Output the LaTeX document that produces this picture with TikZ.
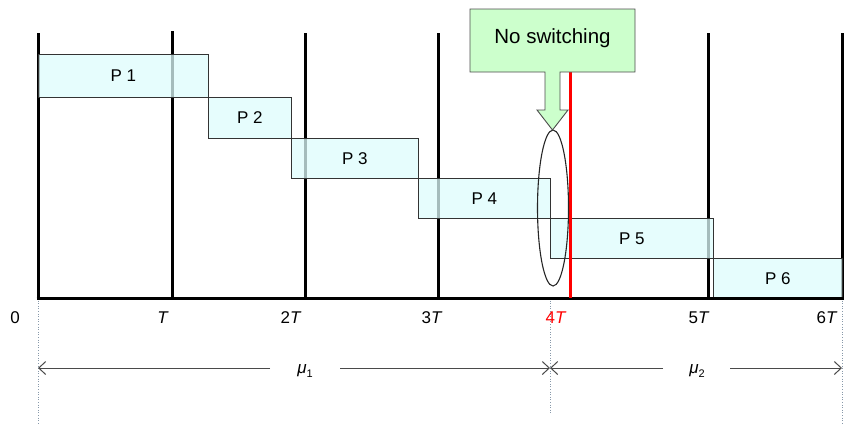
\documentclass[tikz,border=0pt]{standalone}
\usepackage{fontspec}
\setmainfont{Liberation Sans}
\usetikzlibrary{arrows.meta}
\definecolor{boxfill}{HTML}{DDFCFC}
\definecolor{callfill}{HTML}{CCFFCC}
\definecolor{dimgray}{HTML}{4A4A4A}
\definecolor{dotgray}{HTML}{8899AA}
\tikzset{
  tline/.style={line width=3pt,black},
  pbox/.style={draw=black!80,line width=0.8pt,fill=boxfill,fill opacity=0.75,text opacity=1,
    anchor=north west,inner sep=0pt,font=\fontsize{17}{19}\selectfont},
  tick/.style={font=\fontsize{17}{19}\selectfont,inner sep=0pt},
  dim/.style={draw=dimgray,line width=1pt,-{Straight Barb[length=7pt,width=13pt]}},
  guide/.style={draw=dotgray,line width=0.6pt,dotted},
  mu/.style={font=\fontsize{17}{19}\selectfont,inner sep=0pt},
}
\begin{document}
\begin{tikzpicture}[x=1pt,y=-1pt]
\useasboundingbox (0,0) rectangle (850,424);
% guides
\draw[guide] (38,298) -- (38,424);
\draw[guide] (550,298) -- (550,414);
\draw[guide] (842,298) -- (842,424);
% vertical lines
\foreach \x/\t in {38/33,172/31,305/33,438/33,708/33,842/33}
  \draw[tline] (\x,\t) -- (\x,298);
% boxes
\node[pbox,minimum width=170pt,minimum height=43pt] (p1) at (38,54) {P 1};
\node[pbox,minimum width=83pt,minimum height=41pt] (p2) at (208,97) {P 2};
\node[pbox,minimum width=127pt,minimum height=40pt] (p3) at (291,138) {P 3};
\node[pbox,minimum width=132pt,minimum height=40pt] (p4) at (418,178) {P 4};
\node[pbox,minimum width=163pt,minimum height=40pt] (p5) at (550,218) {P 5};
\node[pbox,minimum width=129pt,minimum height=40pt] (p6) at (713,258) {P 6};
% axis
\draw[tline] (36.5,298) -- (843.5,298);
% red line
\draw[red,line width=3pt] (570,72) -- (570,298);
% ellipse
\draw[black!85,line width=1.1pt] (553,208) ellipse [x radius=15.5pt,y radius=78pt];
% callout
\draw[draw=black!70,line width=0.9pt,fill=callfill] (470,9) -- (635,9) -- (635,72) -- (560,72) -- (560,110) -- (568,110) -- (552.5,130) -- (537,110) -- (545,110) -- (545,72) -- (470,72) -- cycle;
\node[font=\fontsize{20.5}{22}\selectfont,inner sep=0pt] (ns) at (552.5,38) {No switching};
% tick labels
\node[tick] (l0) at (15,318) {0};
\node[tick] (l1) at (163,318) {\textit{T}};
\node[tick] (l2) at (291,318) {2\textit{T}};
\node[tick] (l3) at (432,318) {3\textit{T}};
\node[tick,text=red] (l4) at (556,318) {4\textit{T}};
\node[tick] (l5) at (699,318) {5\textit{T}};
\node[tick] (l6) at (827,318) {6\textit{T}};
% dimension arrows
\coordinate (a0) at (38,368);
\coordinate (a4) at (550,368);
\coordinate (a6) at (842,368);
\node[mu] (m1) at (305,371) {\textit{μ}\raisebox{-0.35ex}{\fontsize{11}{12}\selectfont 1}};
\node[mu] (m2) at (697,371) {\textit{μ}\raisebox{-0.35ex}{\fontsize{11}{12}\selectfont 2}};
\draw[dim] (270,368) -- (a0);
\draw[dim] (340,368) -- (a4);
\draw[dim] (663,368) -- (a4);
\draw[dim] (730,368) -- (a6);
\end{tikzpicture}
\end{document}
